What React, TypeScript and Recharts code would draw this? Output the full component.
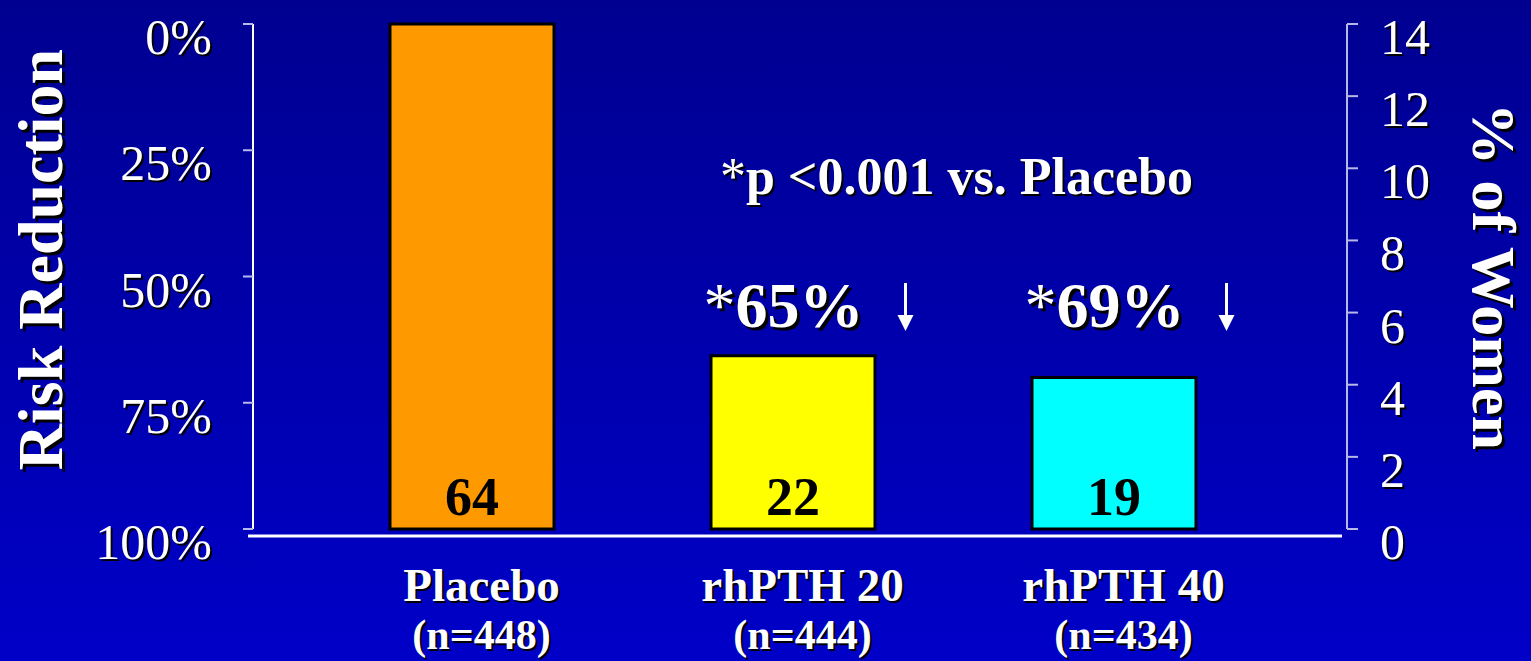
import React from 'react'
import {
  ComposedChart, Bar, Line, XAxis, YAxis, Cell, LabelList, ReferenceDot, Label,
} from 'recharts'

const groups = ['Placebo', 'rhPTH 20', 'rhPTH 40']
const groupSizes = ['(n=448)', '(n=444)', '(n=434)']
const pctWomen = [14.0, 4.8, 4.2]
const fractureCounts = [64, 22, 19]
const riskReduction = [0, 65, 69]
const barColors = ['#ff9900', '#ffff00', '#00ffff']
const reductions = ['', '*65%', '*69%']
const womenTicks = [0, 2, 4, 6, 8, 10, 12, 14]
const riskTicks = [0, 25, 50, 75, 100]

const SERIF = '"Liberation Serif", "Times New Roman", Times, serif'

const data = groups.map((name, i) => ({
  name,
  n: groupSizes[i],
  women: pctWomen[i],
  count: fractureCounts[i],
  reduction: riskReduction[i],
}))

// white text with the slide's black drop shadow
function Shadowed({ x, y, size, bold = true, anchor = 'middle', fill = '#fff', off = 2, rotate = 0, children }: any) {
  const t = rotate ? `rotate(${rotate}, ${x}, ${y})` : undefined
  const common = {
    x, y, fontFamily: SERIF, fontSize: size, fontWeight: bold ? 700 : 400,
    textAnchor: anchor, transform: t,
  }
  return (
    <g>
      <g transform={`translate(${off},${off})`}>
        <text {...common} fill="#000">{children}</text>
      </g>
      <text {...common} fill={fill}>{children}</text>
    </g>
  )
}

function RiskTick({ x, y, payload }: any) {
  return (
    <Shadowed x={x - 29} y={y + 30} size={50} bold={false} anchor="end">
      {`${payload.value}%`}
    </Shadowed>
  )
}

function WomenTick({ x, y, payload }: any) {
  return (
    <Shadowed x={x + 20} y={y + 30} size={50} bold={false} anchor="start">
      {payload.value}
    </Shadowed>
  )
}

function GroupTick({ x, y, payload, index }: any) {
  return (
    <g>
      <Shadowed x={x + 10} y={y + 64} size={47}>{payload.value}</Shadowed>
      <Shadowed x={x + 10} y={y + 112} size={42}>{groupSizes[index]}</Shadowed>
    </g>
  )
}

function CountLabel({ x, y, width, height, value }: any) {
  return (
    <text
      x={x + width / 2} y={y + height - 14} textAnchor="middle"
      fontFamily={SERIF} fontSize={54} fontWeight={700} fill="#000"
    >
      {value}
    </text>
  )
}

function LeftTitle({ viewBox }: any) {
  const bx = viewBox.x + 62
  const cy = viewBox.y + viewBox.height / 2 - 17
  return (
    <Shadowed x={bx} y={cy} size={64} rotate={-90} off={3}>
      Risk Reduction
    </Shadowed>
  )
}

function RightTitle({ viewBox }: any) {
  const bx = viewBox.x + 126
  const cy = viewBox.y + viewBox.height / 2
  return (
    <Shadowed x={bx} y={cy} size={62} rotate={90} off={3}>
      % of Women
    </Shadowed>
  )
}

function PValueNote({ viewBox }: any) {
  return (
    <Shadowed x={viewBox.x + 164} y={viewBox.y} size={52}>
      <tspan fontWeight={400}>*</tspan>p &lt;0.001 vs. Placebo
    </Shadowed>
  )
}

function ReductionNote({ viewBox, text }: any) {
  const cx = viewBox.x
  const by = viewBox.y
  const ax = cx + 113
  return (
    <g>
      <Shadowed x={cx - 9} y={by} size={64} off={3}>
        <tspan fontWeight={400}>{text.slice(0, 1)}</tspan>{text.slice(1)}
      </Shadowed>
      <line x1={ax} y1={by - 44} x2={ax} y2={by - 10} stroke="#fff" strokeWidth={3} />
      <polygon points={`${ax - 8},${by - 12} ${ax + 8},${by - 12} ${ax},${by + 4}`} fill="#fff" />
    </g>
  )
}

export default function App() {
  return (
    <div
      style={{
        position: 'absolute', left: 0, top: 0, width: 1531, height: 661,
        background: 'linear-gradient(to bottom, #000090 0%, #0000c8 100%)',
        overflow: 'hidden',
      }}
    >
      <ComposedChart
        width={1531}
        height={661}
        data={data}
        margin={{ top: 24, right: 0, bottom: 0, left: 0 }}
      >
        <XAxis
          dataKey="name"
          height={132}
          interval={0}
          padding={{ left: 58, right: 73 }}
          tickLine={false}
          axisLine={{ stroke: '#ffffff', strokeWidth: 3, transform: 'translate(-5,7)' }}
          tick={<GroupTick />}
        />
        <YAxis
          yAxisId="rr"
          orientation="left"
          type="number"
          width={253}
          domain={[0, 100]}
          reversed
          ticks={riskTicks}
          interval={0}
          tickSize={10}
          axisLine={{ stroke: '#ffffff', strokeWidth: 2 }}
          tickLine={{ stroke: '#b8b8f0', strokeWidth: 2 }}
          tick={<RiskTick />}
        >
          <Label content={<LeftTitle />} />
        </YAxis>
        <YAxis
          yAxisId="pct"
          orientation="right"
          type="number"
          width={184}
          domain={[0, 14]}
          ticks={womenTicks}
          interval={0}
          tickSize={11}
          axisLine={{ stroke: '#b8b8e8', strokeWidth: 2 }}
          tickLine={{ stroke: '#b8b8e8', strokeWidth: 2 }}
          tick={<WomenTick />}
        >
          <Label content={<RightTitle />} />
        </YAxis>
        <Bar
          yAxisId="pct"
          dataKey="women"
          barSize={164}
          stroke="#000"
          strokeWidth={3}
          isAnimationActive={false}
        >
          {data.map((d, i) => (
            <Cell key={d.name} fill={barColors[i]} />
          ))}
          <LabelList dataKey="count" content={<CountLabel />} />
        </Bar>
        {/* risk reduction is only shown as text; keep the series invisible */}
        <Line
          yAxisId="rr"
          dataKey="reduction"
          stroke="none"
          dot={false}
          activeDot={false}
          isAnimationActive={false}
        />
        <ReferenceDot
          yAxisId="pct" x="rhPTH 20" y={9.3} r={0} stroke="none" fill="none"
          ifOverflow="visible" label={<PValueNote />}
        />
        {groups.map((g, i) =>
          reductions[i] ? (
            <ReferenceDot
              key={g} yAxisId="pct" x={g} y={5.6} r={0} stroke="none" fill="none"
              ifOverflow="visible" label={<ReductionNote text={reductions[i]} />}
            />
          ) : null,
        )}
      </ComposedChart>
    </div>
  )
}
